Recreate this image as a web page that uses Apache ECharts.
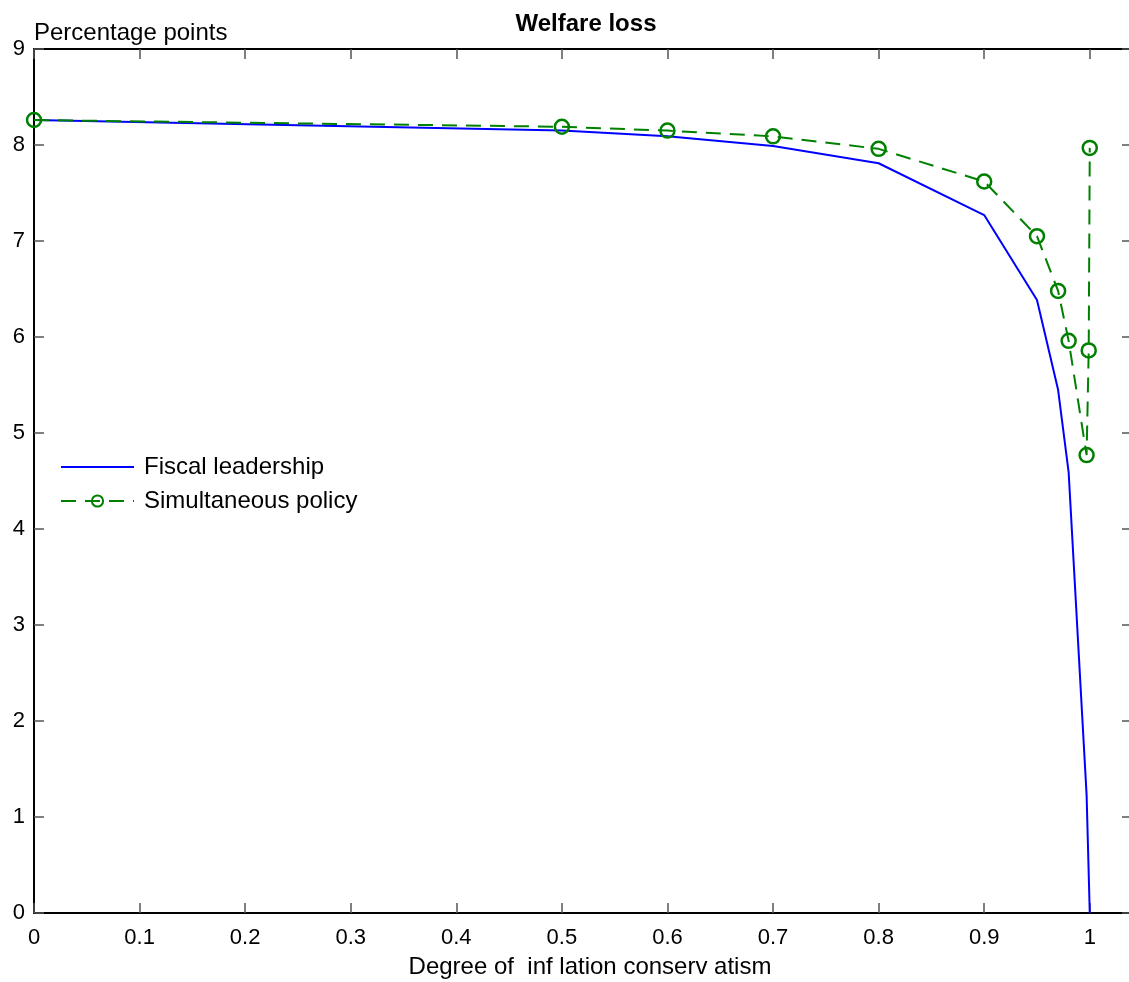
<!DOCTYPE html>
<html>
<head>
<meta charset="utf-8">
<script src="https://cdn.jsdelivr.net/npm/echarts@6/dist/echarts.min.js"></script>
<style>
html,body{margin:0;padding:0;background:#fff;overflow:hidden;}
#chart{width:1129px;height:982px;}
</style>
</head>
<body>
<div id="chart"></div>
<script>
// Data
const fiscalX = [0, 0.5, 0.6, 0.7, 0.8, 0.9, 0.95, 0.97, 0.98, 0.997, 1.0];
const fiscalY = [8.26, 8.15, 8.09, 7.99, 7.81, 7.27, 6.385, 5.45, 4.59, 1.23, 0];
const simulX = [0, 0.5, 0.6, 0.7, 0.8, 0.9, 0.95, 0.97, 0.98, 0.997, 0.999, 1.0];
const simulY = [8.26, 8.19, 8.15, 8.09, 7.96, 7.62, 7.05, 6.48, 5.96, 4.77, 5.86, 7.97];
const xTickLabels = ['0', '0.1', '0.2', '0.3', '0.4', '0.5', '0.6', '0.7', '0.8', '0.9', '1'];
const yTickLabels = ['0', '1', '2', '3', '4', '5', '6', '7', '8', '9'];
const seriesNames = ['Fiscal leadership', 'Simultaneous policy'];

const FONT = '"Liberation Sans", Arial, Helvetica, sans-serif';
const chart = echarts.init(document.getElementById('chart'), null, {renderer: 'canvas'});

function xLabel(v) {
  const i = Math.round(v * 10);
  if (Math.abs(v * 10 - i) > 1e-6 || i > 10) return '';
  return xTickLabels[i];
}
function yLabel(v) {
  const i = Math.round(v);
  if (Math.abs(v - i) > 1e-6) return '';
  return yTickLabels[i] || '';
}

const axisLineStyle = {color: '#000', width: 2};
const tickStyle = {color: '#555', width: 1.5};

chart.setOption({
  backgroundColor: '#fff',
  animation: false,
  title: {
    text: 'Welfare loss',
    left: 581, top: 7, textAlign: 'center',
    textStyle: {fontFamily: FONT, fontSize: 24, fontWeight: 'bold', color: '#000'}
  },
  graphic: [
    {type: 'text', left: 34, top: 21, style: {text: 'Percentage points', font: '24px ' + FONT, fill: '#000'}}
  ],
  legend: {
    orient: 'vertical',
    left: 55, top: 450,
    itemWidth: 73, itemHeight: 14, itemGap: 10,
    textStyle: {fontFamily: FONT, fontSize: 24, color: '#000', padding: [0, 0, 0, 5]},
    data: [
      {name: seriesNames[0], itemStyle: {color: 'rgba(0,0,0,0)', borderColor: 'rgba(0,0,0,0)', borderWidth: 0, opacity: 0}},
      {name: seriesNames[1]}
    ]
  },
  grid: {left: 34, top: 49, width: 1098, height: 864, containLabel: false, outerBoundsMode: 'none'},
  xAxis: [
    {
      type: 'value', position: 'bottom', min: 0, max: 1.04, interval: 0.1,
      name: 'Degree of  inf lation conserv atism', nameLocation: 'middle', nameGap: 42,
      nameTextStyle: {fontFamily: FONT, fontSize: 24, color: '#000', padding: [0, 0, 0, 14]},
      axisLine: {show: true, onZero: false, lineStyle: axisLineStyle},
      axisTick: {show: true, inside: true, length: 10, lineStyle: tickStyle},
      axisLabel: {show: true, formatter: xLabel, margin: 14, fontFamily: FONT, fontSize: 22, color: '#000'},
      splitLine: {show: false}
    },
    {
      type: 'value', position: 'top', min: 0, max: 1.04, interval: 0.1,
      axisLine: {show: true, onZero: false, lineStyle: axisLineStyle},
      axisTick: {show: true, inside: true, length: 10, lineStyle: tickStyle},
      axisLabel: {show: false},
      splitLine: {show: false}
    }
  ],
  yAxis: [
    {
      type: 'value', position: 'left', min: 0, max: 9, interval: 1,
      axisLine: {show: true, onZero: false, lineStyle: axisLineStyle},
      axisTick: {show: true, inside: true, length: 10, lineStyle: tickStyle},
      axisLabel: {show: true, formatter: yLabel, margin: 9, fontFamily: FONT, fontSize: 22, color: '#000'},
      splitLine: {show: false}
    },
    {
      type: 'value', position: 'right', min: 0, max: 9, interval: 1,
      axisLine: {show: true, onZero: false, lineStyle: axisLineStyle},
      axisTick: {show: true, inside: true, length: 10, lineStyle: tickStyle},
      axisLabel: {show: false},
      splitLine: {show: false}
    }
  ],
  series: [
    {
      name: seriesNames[0], type: 'line', xAxisIndex: 0, yAxisIndex: 0,
      data: fiscalX.map((x, i) => [x, fiscalY[i]]),
      showSymbol: false, symbol: 'none',
      lineStyle: {color: '#0000ff', width: 2},
      itemStyle: {color: '#0000ff'},
      z: 2
    },
    {
      name: seriesNames[1], type: 'line', xAxisIndex: 0, yAxisIndex: 0,
      data: simulX.map((x, i) => [x, simulY[i]]),
      symbol: 'circle', symbolSize: 14, showSymbol: true,
      lineStyle: {color: '#008000', width: 2, type: [15, 9]},
      itemStyle: {color: 'rgba(0,0,0,0)', borderColor: '#008000', borderWidth: 2.5},
      z: 3
    }
  ]
});
</script>
</body>
</html>
